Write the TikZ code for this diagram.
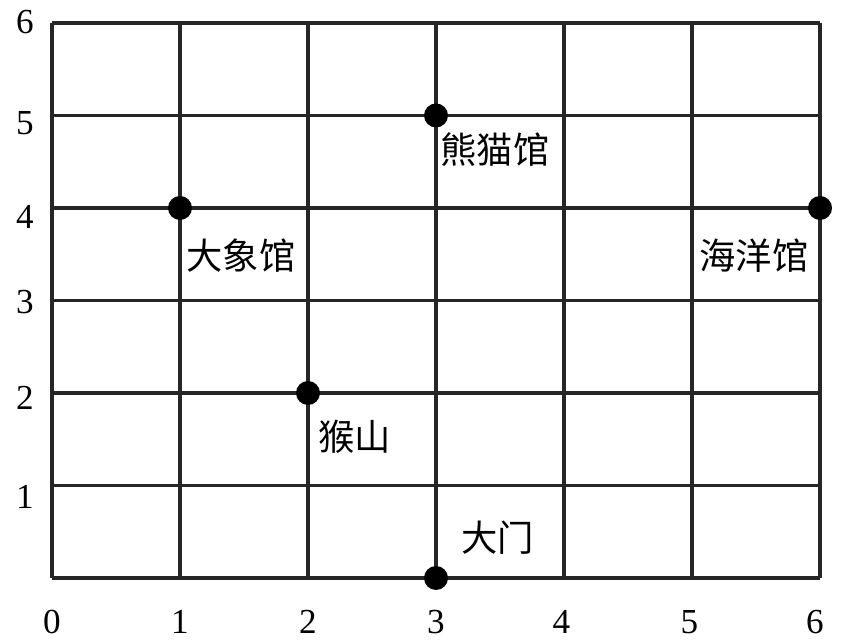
\documentclass[tikz,border=0pt]{standalone}
\usepackage{fontspec}
\setmainfont{Liberation Serif}
\newfontfamily\cjk{Noto Sans CJK SC}
\begin{document}
\begin{tikzpicture}[x=3.84cm,y=2.775cm,
  gridline/.style={line width=2.9pt,draw=black!85},
  dot/.style={circle,fill=black,inner sep=0pt,minimum size=0.72cm},
  place/.style={font=\cjk\fontsize{31}{31}\selectfont,inner sep=0pt},
  num/.style={font=\fontsize{30}{30}\selectfont,inner sep=0pt}]
\useasboundingbox (-0.40625,-0.6919) rectangle (6.21875,6.2486);
\fill[white] (-0.40625,-0.6919) rectangle (6.21875,6.2486);
\foreach \i in {0,...,6} {
  \draw[gridline] (\i,0) -- (\i,6);
  \draw[gridline] (0,\i) -- (6,\i);
}
\node[dot] (panda) at (3,5) {};
\node[dot] (elephant) at (1,4) {};
\node[dot] (ocean) at (6,4) {};
\node[dot] (monkey) at (2,2) {};
\node[dot] (gate) at (3,0) {};
\node[place] (lpanda) at (3.46,4.627) {熊猫馆};
\node[place] (lelephant) at (1.477,3.49) {大象馆};
\node[place] (locean) at (5.484,3.49) {海洋馆};
\node[place] (lmonkey) at (2.367,1.524) {猴山};
\node[place] (lgate) at (3.484,0.432) {大门};
\node[num] (y6) at (-0.211,6.01) {6};
\node[num] (y5) at (-0.211,4.92) {5};
\node[num] (y4) at (-0.211,3.90) {4};
\node[num] (y3) at (-0.211,2.98) {3};
\node[num] (y2) at (-0.211,1.95) {2};
\node[num] (y1) at (-0.211,0.876) {1};
\node[num] (x0) at (0,-0.476) {0};
\node[num] (x1) at (1,-0.476) {1};
\node[num] (x2) at (2,-0.476) {2};
\node[num] (x3) at (3,-0.476) {3};
\node[num] (x4) at (3.98,-0.476) {4};
\node[num] (x5) at (4.98,-0.476) {5};
\node[num] (x6) at (5.96,-0.476) {6};
\end{tikzpicture}
\end{document}
